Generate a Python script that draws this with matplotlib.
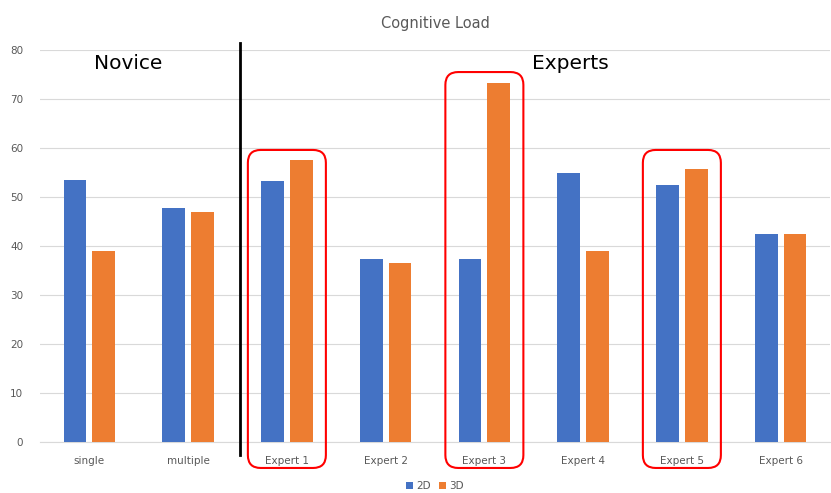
import matplotlib.pyplot as plt
import numpy as np
from matplotlib.patches import FancyBboxPatch

categories = ["single", "multiple", "Expert 1", "Expert 2", "Expert 3",
              "Expert 4", "Expert 5", "Expert 6"]
values_2d = [53.5, 47.8, 53.3, 37.3, 37.3, 54.9, 52.4, 42.4]
values_3d = [39.0, 46.9, 57.5, 36.5, 73.3, 39.0, 55.7, 42.4]
highlighted = ["Expert 1", "Expert 3", "Expert 5"]
box_tops = [59.6, 75.5, 59.6]

blue = "#4472C4"
orange = "#ED7D31"
gray = "#595959"

fig = plt.figure(figsize=(8.31, 4.93), dpi=100)
ax = fig.add_axes([40 / 831, 51 / 493, 790 / 831, 392 / 493])

x = np.arange(len(categories))
w = 0.23
ax.bar(x - 0.145, values_2d, w, color=blue, label="2D", zorder=3)
ax.bar(x + 0.145, values_3d, w, color=orange, label="3D", zorder=3)

ax.set_xlim(-0.5, len(categories) - 0.5)
ax.set_ylim(0, 80)
ax.set_yticks(np.arange(0, 81, 10))
ax.set_xticks(x)
ax.set_xticklabels(categories)
ax.tick_params(axis="both", length=0, labelsize=7.5, labelcolor=gray)
ax.tick_params(axis="x", pad=10)
ax.tick_params(axis="y", pad=12)
ax.grid(axis="y", color="#d9d9d9", linewidth=0.8, zorder=0)
for s in ["top", "right", "left"]:
    ax.spines[s].set_visible(False)
ax.spines["bottom"].set_color("#d9d9d9")

ax.set_title("Cognitive Load", fontsize=10.5, color=gray, pad=16)

# divider between novice and expert groups
ax.plot([1.53, 1.53], [-2.6, 81.5], color="black", lw=2, clip_on=False, zorder=5)
ax.text(0.39, 77.2, "Novice", fontsize=14.5, ha="center", va="center")
ax.text(4.87, 77.2, "Experts", fontsize=14.5, ha="center", va="center")

# red rounded boxes around highlighted experts
aspect = (80 / 392) / (8 / 790)
for cat, top in zip(highlighted, box_tops):
    i = categories.index(cat)
    box = FancyBboxPatch((i - 0.395, -5.3), 0.79, top + 5.3,
                         boxstyle="round,pad=0,rounding_size=0.13",
                         mutation_aspect=aspect, fill=False,
                         edgecolor="red", lw=1.5, clip_on=False, zorder=6)
    ax.add_patch(box)

ax.legend(loc="center", bbox_to_anchor=(0.5, -0.113), ncol=2, frameon=False,
          fontsize=7.5, labelcolor=gray, handlelength=0.7, handleheight=0.7,
          handletextpad=0.3, columnspacing=0.8)

fig.savefig("out.png", dpi=100)
